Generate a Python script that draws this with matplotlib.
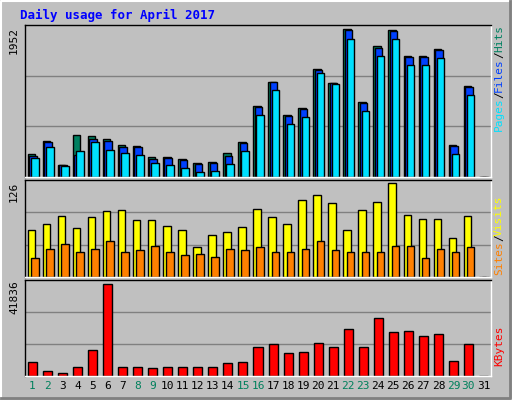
import matplotlib.pyplot as plt
import numpy as np

days = list(range(1, 32))
hits = [308, 480, 163, 560, 546, 507, 427, 414, 269, 269, 242, 189, 203, 322, 467, 943,
        1260, 824, 916, 1432, 1247, 1952, 996, 1736, 1947, 1604, 1604, 1696, 427, 1207, 0]
files = [282, 467, 154, 295, 507, 480, 401, 401, 242, 256, 229, 176, 189, 282, 454, 925,
         1260, 811, 903, 1419, 1247, 1939, 982, 1710, 1934, 1591, 1591, 1683, 414, 1194, 0]
pages = [256, 401, 150, 348, 467, 361, 322, 295, 189, 163, 123, 70, 84, 176, 348, 824,
         1154, 705, 797, 1379, 1234, 1828, 877, 1604, 1828, 1485, 1485, 1577, 308, 1088, 0]
visits = [63, 71, 82, 66, 81, 89, 90, 77, 77, 68, 63, 40, 56, 60, 67, 92, 81, 71, 103, 110,
          100, 63, 90, 101, 126, 84, 78, 78, 52, 82, 0]
sites = [26, 38, 44, 34, 37, 49, 34, 36, 42, 33, 30, 31, 27, 38, 36, 41, 33, 34, 38, 48,
         36, 33, 33, 34, 42, 42, 25, 38, 33, 40, 0]
kbytes = [6400, 2400, 1500, 4300, 11600, 41836, 4300, 3900, 3400, 3900, 3900, 3900, 4300,
          6100, 6500, 13000, 14400, 10200, 11100, 14800, 13000, 21200, 13000, 26200, 19800,
          20300, 18000, 18900, 7000, 14400, 0]
weekend = [1, 2, 8, 9, 15, 16, 22, 23, 29, 30]

W, H = 512, 400
BG = "#C0C0C0"
fig = plt.figure(figsize=(W / 100, H / 100), dpi=100, facecolor=BG)
mono = "DejaVu Sans Mono"


def panel(y0, y1):
    ax = fig.add_axes([25 / W, 1 - y1 / H, 466 / W, (y1 - y0) / H])
    ax.set_facecolor(BG)
    ax.set_xlim(0.5, 31.5)
    ax.set_xticks([])
    ax.set_yticks([])
    for s in ax.spines.values():
        s.set_linewidth(1)
    ax.spines["top"].set_color("black")
    ax.spines["left"].set_color("black")
    ax.spines["bottom"].set_color("white")
    ax.spines["right"].set_color("white")
    return ax


x = np.array(days)
edge = dict(edgecolor="black", linewidth=1)

ax1 = panel(25, 177)
top1 = 1952 * 1.03
ax1.set_ylim(0, top1)
for g in (top1 / 3, 2 * top1 / 3):
    ax1.axhline(g, color="#808080", lw=1, zorder=0)
ax1.bar(x - 0.32, hits, width=0.5, align="edge", color="#008060", **edge)
ax1.bar(x - 0.22, files, width=0.5, align="edge", color="#0040FF", **edge)
ax1.bar(x - 0.1, pages, width=0.5, align="edge", color="#00E0FF", **edge)

ax2 = panel(180, 277)
top2 = 126 * 1.035
ax2.set_ylim(0, top2)
for g in (top2 / 3, 2 * top2 / 3):
    ax2.axhline(g, color="#808080", lw=1, zorder=0)
ax2.bar(x - 0.32, visits, width=0.5, align="edge", color="#FFFF00", **edge)
ax2.bar(x - 0.1, sites, width=0.5, align="edge", color="#FF8000", **edge)

ax3 = panel(280, 376)
top3 = 41836 * 1.04
ax3.set_ylim(0, top3)
for g in (top3 / 3, 2 * top3 / 3):
    ax3.axhline(g, color="#808080", lw=1, zorder=0)
ax3.bar(x - 0.3, kbytes, width=0.6, align="edge", color="#FF0000", **edge)

for d in days:
    ax3.text(d, -0.05, str(d), transform=ax3.get_xaxis_transform(), ha="center", va="top",
             fontsize=8, family=mono, color="#00805C" if d in weekend else "black")

fig.text(20 / W, 1 - 15 / H, "Daily usage for April 2017", color="#0000FF", fontsize=9,
         family=mono, fontweight="bold", va="center")

fig.text(14 / W, 1 - 40 / H, "1952", rotation=90, fontsize=8, family=mono, ha="center", va="center")
fig.text(14 / W, 1 - 192 / H, "126", rotation=90, fontsize=8, family=mono, ha="center", va="center")
fig.text(14 / W, 1 - 297 / H, "41836", rotation=90, fontsize=8, family=mono, ha="center", va="center")


def right_label(parts, ytop):
    y = ytop
    for txt, col in parts:
        fig.text(499 / W, 1 - y / H, txt, rotation=90, fontsize=8, family=mono,
                 color=col, ha="center", va="top")
        y += 6.6 * len(txt)


right_label([("Hits", "#008060"), ("/", "black"), ("Files", "#0040FF"), ("/", "black"),
             ("Pages", "#00E0FF")][::-1][::-1], 25)
right_label([("Visits", "#FFFF00"), ("/", "black"), ("Sites", "#FF8000")], 195)
right_label([("KBytes", "#FF0000")], 325)

# outer frame
frame = fig.add_axes([0, 0, 1, 1], facecolor="none", zorder=-1)
frame.set_xlim(0, W)
frame.set_ylim(H, 0)
frame.axis("off")
frame.plot([1, 1, W - 2], [H - 2, 1, 1], color="white", lw=1.5)
frame.plot([1, W - 2, W - 2], [H - 2, H - 2, 1], color="#808080", lw=2)

fig.savefig("out.png", dpi=100, facecolor=BG)
